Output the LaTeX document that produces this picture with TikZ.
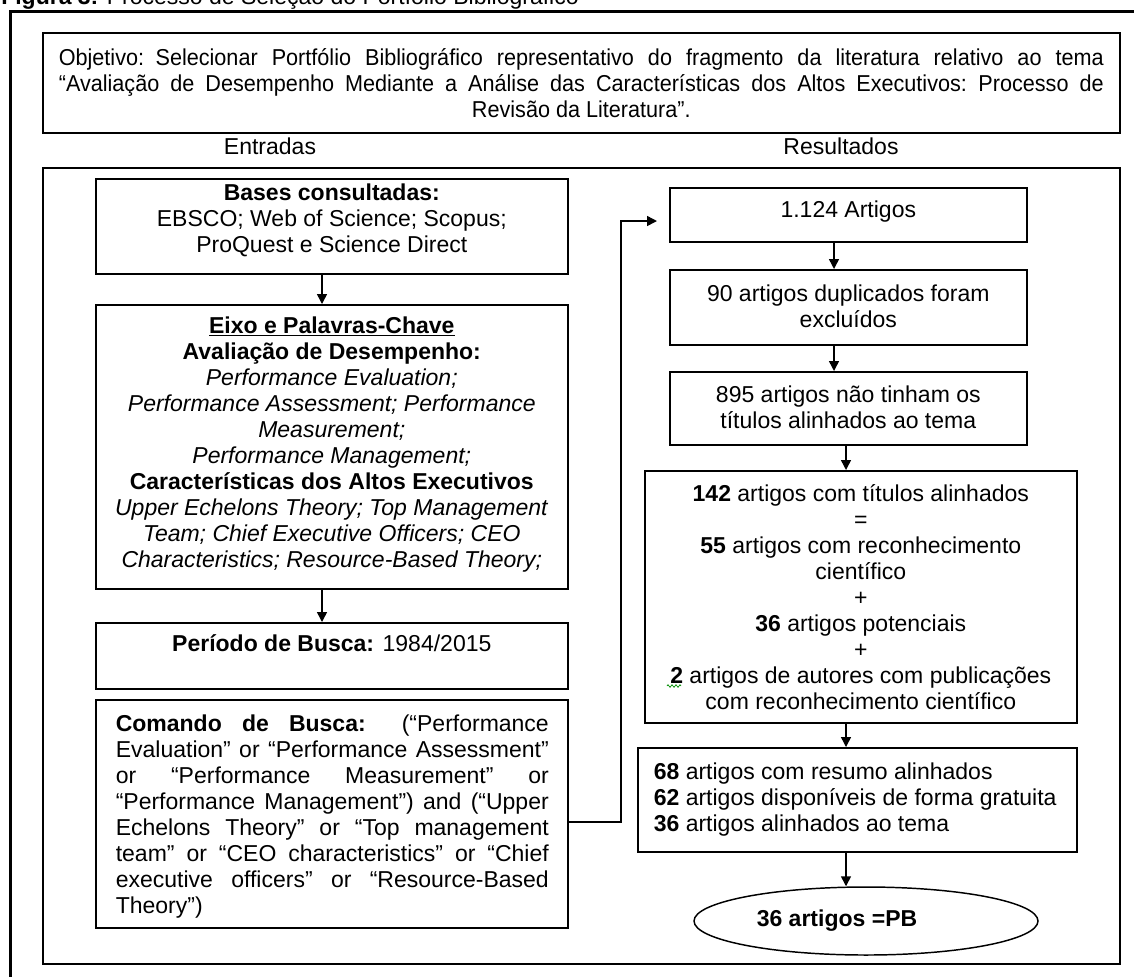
\documentclass[tikz,border=0pt]{standalone}
\usepackage{fontspec}
\setmainfont{Liberation Sans}
\newfontfamily\narrowsans[FakeStretch=0.94]{Liberation Sans}
\usetikzlibrary{arrows.meta,calc,shapes.geometric,decorations.pathmorphing}
% text block pinned to the top of a framed box: width, height, top padding, lines
\newcommand{\cbox}[4]{\parbox[t][#2][t]{#1}{\vspace*{#3}\centering\strut#4\strut}}
\begin{document}
\begin{tikzpicture}[x=0.75pt,y=-0.75pt,
  every node/.style={font=\fontsize{17.25pt}{19.5pt}\selectfont, inner sep=0pt},
  frame/.style={draw, line width=1.2pt, anchor=north west},
  arr/.style={line width=1.1pt, -{Triangle[length=7.5pt,width=7.5pt]}}]
\useasboundingbox (0,0) rectangle (1134,976);

% caption above the figure frame
\node[anchor=base west] (caption) at (1,4)
  {\textbf{Figura 3:} Processo de Seleção do Portfólio Bibliográfico};

% outer figure frame
\draw[line width=2.25pt] (10,11) rectangle (1300,1100);

% objective, justified in a narrow face
\node[frame, minimum width=807.75pt, minimum height=75pt, align=center,
      text width=784pt, font=\narrowsans\fontsize{17.25pt}{19.4pt}\selectfont]
  (goal) at (42,32)
  {\spaceskip=0.26em plus 0.6em minus 0.05em\relax
   \makebox[783.75pt][s]{Objetivo: Selecionar Portfólio Bibliográfico representativo do fragmento da literatura relativo ao tema}\\
   \makebox[783.75pt][s]{“Avaliação de Desempenho Mediante a Análise das Características dos Altos Executivos: Processo de}\\
   \mbox{Revisão da Literatura”.}};

\node (inLabel) at (270,146) {Entradas};
\node (outLabel) at (841,146) {Resultados};

% panel holding both columns
\node[frame, minimum width=807.75pt, minimum height=597pt] (panel) at (42,167) {};

% inputs column
\node[frame] (bases) at (95,178) {\cbox{354pt}{71.25pt}{2.25pt}{%
  \textbf{Bases consultadas:}\\EBSCO; Web of Science; Scopus;\\ProQuest e Science Direct}};

\node[frame] (eixo) at (95,304) {\cbox{354pt}{213pt}{7.5pt}{%
  \textbf{\underline{Eixo e Palavras-Chave}}\\
  \textbf{Avaliação de Desempenho:}\\
  \textit{Performance Evaluation;}\\
  \textit{Performance Assessment; Performance}\\
  \textit{Measurement;}\\
  \textit{Performance Management;}\\
  \textbf{Características dos Altos Executivos}\\
  \textit{Upper Echelons Theory; Top Management}\\
  \textit{Team; Chief Executive Officers; CEO}\\
  \textit{Characteristics; Resource-Based Theory;}}};

\node[frame] (periodo) at (95,622) {\cbox{354pt}{49.5pt}{7.5pt}{%
  \textbf{Período de Busca:} 1984/2015}};

\node[frame] (comando) at (95,699) {\parbox[t][171pt][t]{354pt}{\vspace*{9.75pt}%
  \leftskip=15pt\relax\strut
  \makebox[324.75pt][s]{\textbf{Comando de Busca:} (“Performance}\\
  \makebox[324.75pt][s]{Evaluation” or “Performance Assessment”}\\
  \makebox[324.75pt][s]{or “Performance Measurement” or}\\
  \makebox[324.75pt][s]{“Performance Management”) and (“Upper}\\
  \makebox[324.75pt][s]{Echelons Theory” or “Top management}\\
  \makebox[324.75pt][s]{team” or “CEO characteristics” or “Chief}\\
  \makebox[324.75pt][s]{executive officers” or “Resource-Based}\\
  Theory”)}};

% results column
\node[frame] (art1124) at (669,187) {\cbox{267.75pt}{40.5pt}{8.25pt}{1.124 Artigos}};
\node[frame] (dup90) at (669,269) {\cbox{267.75pt}{56.25pt}{9.75pt}{%
  90 artigos duplicados foram\\excluídos}};
\node[frame] (nt895) at (669,371) {\cbox{267.75pt}{54.75pt}{9pt}{%
  895 artigos não tinham os\\títulos alinhados ao tema}};
\node[frame] (t142) at (644,470) {\cbox{324pt}{189pt}{9pt}{%
  \textbf{142} artigos com títulos alinhados\\
  =\\
  \textbf{55} artigos com reconhecimento\\
  científico\\
  +\\
  \textbf{36} artigos potenciais\\
  +\\
  \textbf{2} artigos de autores com publicações\\
  com reconhecimento científico}};
\node[frame] (r68) at (637,747) {\parbox[t][78pt][t]{329.25pt}{\vspace*{9.75pt}%
  \raggedright\leftskip=12pt\relax\strut
  \textbf{68} artigos com resumo alinhados\\
  \textbf{62} artigos disponíveis de forma gratuita\\
  \textbf{36} artigos alinhados ao tema}};
\node[draw, line width=1.1pt, ellipse, minimum width=258pt, minimum height=51pt,
      font=\bfseries\fontsize{17.25pt}{19.5pt}\selectfont]
  (pb) at (866,921) {36 artigos =PB\hspace*{43.5pt}};

% spell-check squiggle under the lone "2"
\draw[green!55!black, line width=0.5pt,
      decorate, decoration={zigzag, segment length=3pt, amplitude=1pt}]
  (667,686) -- (681,686);

% arrow columns
\coordinate (lx) at (322,0);
\coordinate (rxa) at (834,0);
\coordinate (rxb) at (846,0);
\coordinate (feedY) at (0,822);
\coordinate (jog) at (621,221);

\draw[arr] (bases.south -| lx) -- (eixo.north -| lx);
\draw[arr] (eixo.south -| lx) -- (periodo.north -| lx);
\draw[arr] (art1124.south -| rxa) -- (dup90.north -| rxa);
\draw[arr] (dup90.south -| rxa) -- (nt895.north -| rxa);
\draw[arr] (nt895.south -| rxb) -- (t142.north -| rxb);
\draw[arr] (t142.south -| rxb) -- (r68.north -| rxb);
\draw[arr] (r68.south -| rxb) -- (pb.north -| rxb);

% search command feeds the result chain
\draw[arr] (comando.east |- feedY) -| (jog) -- ($(jog -| art1124.west)+(-12,0)$);
\end{tikzpicture}
\end{document}
